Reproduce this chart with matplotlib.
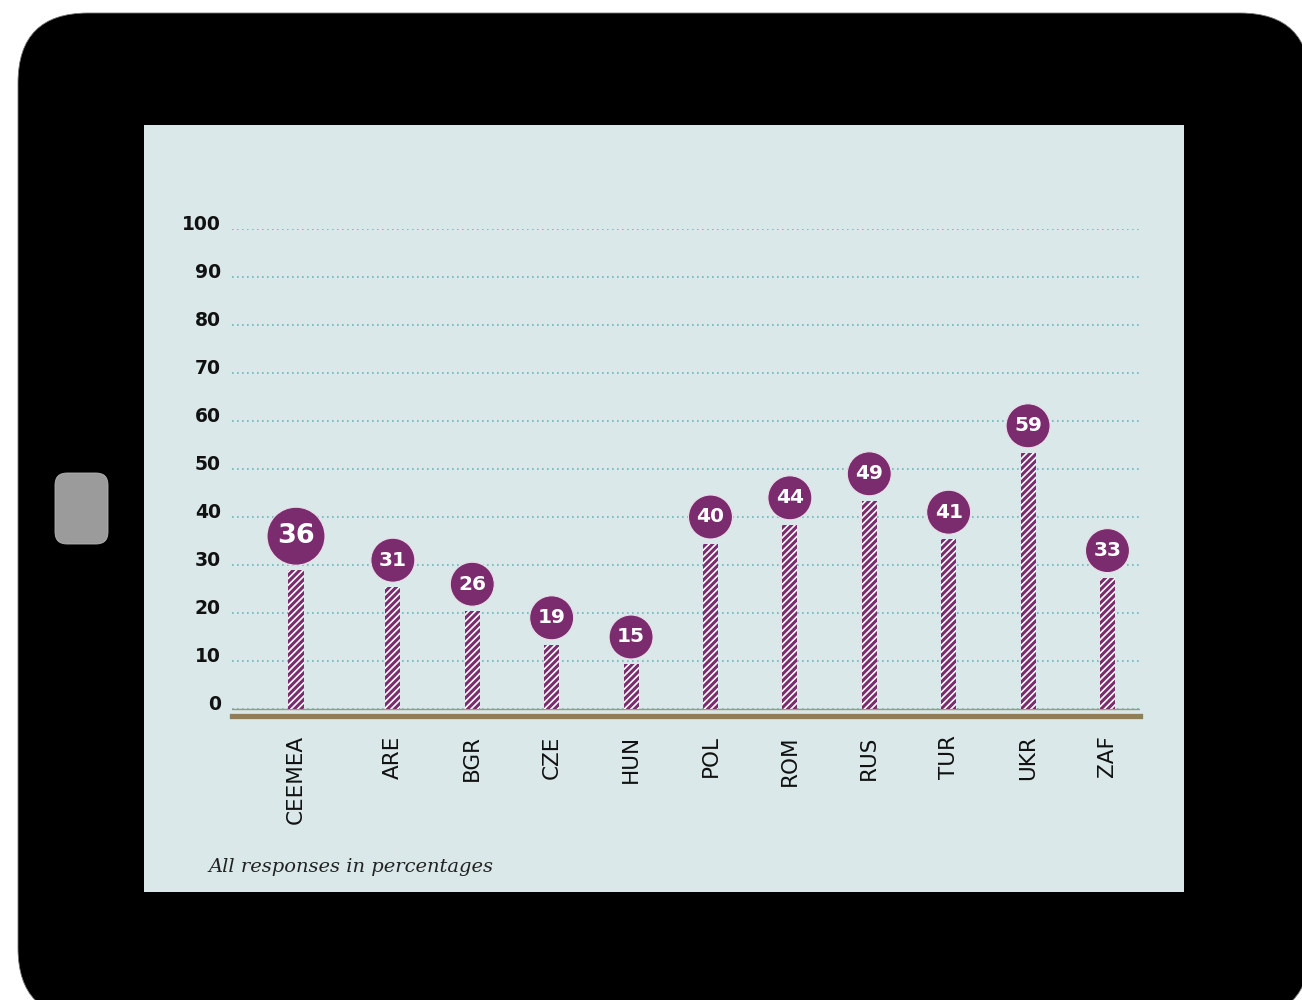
import matplotlib.pyplot as plt
from matplotlib.patches import FancyBboxPatch, Rectangle
from matplotlib.transforms import ScaledTranslation

# Dữ liệu
categories = ["CEEMEA", "ARE", "BGR", "CZE", "HUN", "POL", "ROM", "RUS", "TUR", "UKR", "ZAF"]
values = [36, 31, 26, 19, 15, 40, 44, 49, 41, 59, 33]
y_ticks = [0, 10, 20, 30, 40, 50, 60, 70, 80, 90, 100]
caption = "All responses in percentages"

PURPLE = "#7b2c6f"
PANEL = "#dae8e9"
GRID = "#6cb6b9"
BASE = "#8f7f58"

plt.rcParams['hatch.linewidth'] = 1.2
plt.rcParams['font.family'] = ['DejaVu Sans']

W, H = 1302, 1000
fig = plt.figure(figsize=(W / 100, H / 100), dpi=100)
fig.patch.set_facecolor("white")

# Lớp nền: khung máy tính bảng (toạ độ pixel)
bg = fig.add_axes([0, 0, 1, 1])
bg.set_xlim(0, W)
bg.set_ylim(H, 0)
bg.axis("off")
bg.add_patch(FancyBboxPatch((18 + 70, 13 + 70), 1310 - 18 - 140, 1018 - 13 - 140,
                            boxstyle="round,pad=70", fc="black", ec="#777777", lw=0.6))
bg.add_patch(FancyBboxPatch((55 + 12, 473 + 12), 53 - 24, 71 - 24,
                            boxstyle="round,pad=12", fc="#9b9b9b", ec="#b5b5b5", lw=0.6))
bg.add_patch(Rectangle((144, 125), 1184 - 144, 892 - 125, fc=PANEL, ec="none"))
bg.text(208, 867, caption, fontsize=14, style="italic", family="DejaVu Serif",
        color="#222222", ha="left", va="center")

# Trục biểu đồ
px_unit = 4.8       # pixel cho mỗi đơn vị %
col_px = 79.4       # pixel giữa các cột
left_px, right_px, top_px, zero_px, bottom_px = 232, 1140, 229, 709, 720
ax = fig.add_axes([left_px / W, 1 - bottom_px / H, (right_px - left_px) / W, (bottom_px - top_px) / H])
ax.set_facecolor("none")
ax.set_ylim(-(bottom_px - zero_px) / px_unit, 100)

positions = [0] + [1.22 + i for i in range(len(categories) - 1)]
ax.set_xlim(-(296 - left_px) / col_px, (right_px - 296) / col_px)

for t in y_ticks:
    ax.axhline(t, color=GRID, lw=1.2, ls=(0, (1, 2)), zorder=1)
ax.axhline(0, color="#a69870", lw=1.0, zorder=2)
ax.axhline(-7 / px_unit, color=BASE, lw=3.8, zorder=2, clip_on=False)

radii = [29 if c == "CEEMEA" else 22 for c in categories]
tops = [v - (r + 5) / px_unit for v, r in zip(values, radii)]
ax.bar(positions, tops, width=0.19, color=PURPLE, edgecolor="white", hatch="/////",
       linewidth=0, zorder=3)
sizes = [(2 * r * 0.72) ** 2 for r in radii]
ax.scatter(positions, values, s=sizes, color=PURPLE, edgecolors="#eadfe8", linewidths=0.8,
           zorder=4, clip_on=False)
for x, v, r in zip(positions, values, radii):
    ax.text(x, v, str(v), color="white", fontweight="bold", ha="center", va="center",
            fontsize=19.5 if r > 25 else 14.5, zorder=5)

ax.set_yticks(y_ticks)
ax.set_yticklabels([str(t) for t in y_ticks], fontsize=13.5, fontweight="bold", color="#111111")
ax.set_xticks(positions)
ax.set_xticklabels(categories, rotation=90, fontsize=15.5, color="#111111", va="top")
ax.tick_params(axis="y", length=0, pad=8)
ax.tick_params(axis="x", length=0, pad=11)
for lab in ax.get_yticklabels():
    lab.set_transform(lab.get_transform() + ScaledTranslation(0, 5 / 72, fig.dpi_scale_trans))
for s in ax.spines.values():
    s.set_visible(False)

fig.savefig("out.png", dpi=100)
